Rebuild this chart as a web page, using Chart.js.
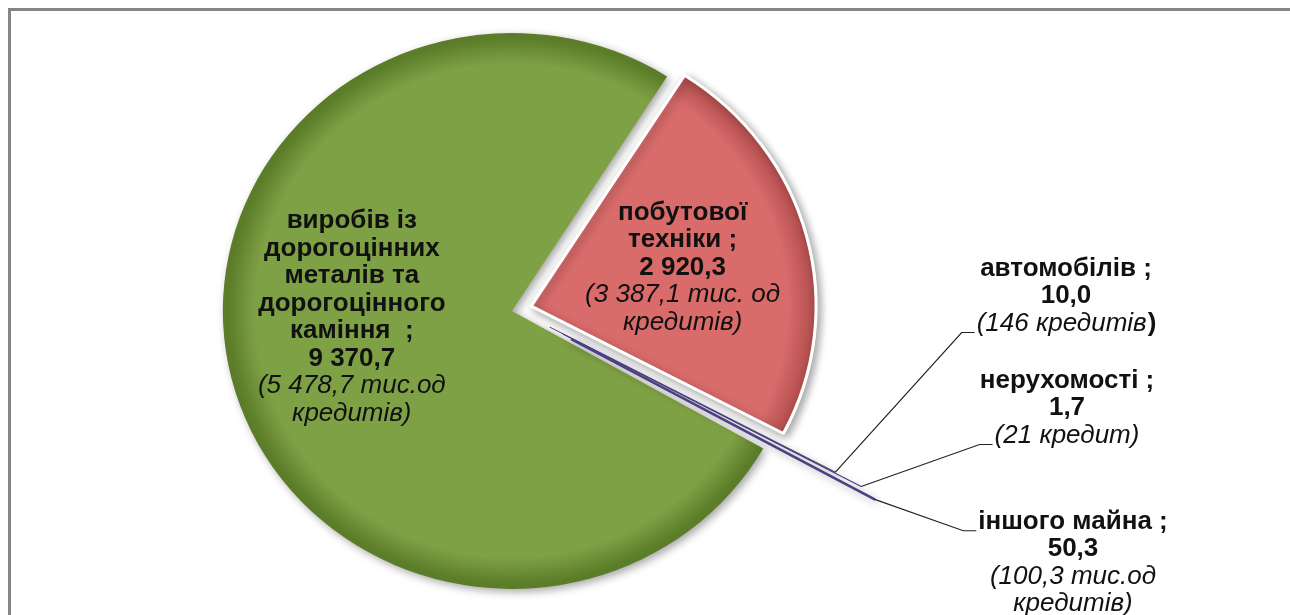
<!DOCTYPE html>
<html>
<head>
<meta charset="utf-8">
<title>Кредити за видами майна</title>
<script src="https://cdn.jsdelivr.net/npm/chart.js@4"></script>
<style>
    html, body { margin: 0; padding: 0; background: #fff; overflow: hidden; }
    #wrap { position: relative; width: 1290px; height: 615px; overflow: hidden; }
    #frame { position: absolute; left: 8px; top: 8px; width: 1400px; height: 700px;
             border-left: 3px solid #858585; border-top: 3px solid #858585; }
    canvas { position: absolute; left: 0; top: 0; }
</style>
</head>
<body>
<div id="wrap">
    <div id="frame"></div>
    <canvas id="pie" width="1290" height="615"></canvas>
</div>
<script>
// Дані (сума кредитів; у дужках - кількість кредитів)
var nameLines = [
    ['виробів із', 'дорогоцінних', 'металів та', 'дорогоцінного', 'каміння  ;'],
    ['побутової', 'техніки ;'],
    ['автомобілів ;'],
    ['нерухомості ;'],
    ['іншого майна ;']
];
var values = [9370.7, 2920.3, 10.0, 1.7, 50.3];
var noteLines = [
    ['(5 478,7 тис.од', 'кредитів)'],
    ['(3 387,1 тис. од', 'кредитів)'],
    ['(146 кредитів)'],
    ['(21 кредит)'],
    ['(100,3 тис.од', 'кредитів)']
];

// Оформлення
var sliceColors = ['#7fa145', '#d96b6b', '#7a64a6', '#6f5b9c', '#6e5ea6'];
var sliceRims = ['#5b7c28', '#b04c4c', '#3e3270', '#3e3270', '#3e3270'];
var sliceBorderColors = ['#ffffff', '#ffffff', '#4a3d80', '#4a3d80', '#4b3f86'];
var sliceBorderWidths = [0, 3, 1, 1, 2.5];
var sliceOffsets = [16, 60, 147, 204, 242];
var pieRadius = 274;
var stretchX = 1.04;   // у оригіналі діаграма трохи розтягнута по горизонталі
var boldParen = [false, false, true, false, false];
// inside: частка радіуса від вершини сектора; інакше - зсув від центру діаграми
var labelPlace = [
    { inside: 0.55, dx: -4, dy: -31 },
    { inside: 0.55, dx: 0, dy: 0 },
    { dx: 550, dy: -14, lead: 2 },
    { dx: 551, dy: 98, lead: 2 },
    { dx: 557, dy: 253, lead: 0 }
];
var linePitch = 27.5;
var boldFont = 'bold 26px "Liberation Sans", Arial, sans-serif';
var italicFont = 'italic 26px "Liberation Sans", Arial, sans-serif';

function fmt(v) {
    var s = v.toFixed(1).split('.');
    return s[0].replace(/\B(?=(\d{3})+(?!\d))/g, ' ') + ',' + s[1];
}

function bevelFill(c) {
    var i = c.dataIndex;
    var area = c.chart.chartArea;
    if (!area) return sliceColors[i];
    var cx = (area.left + area.right) / 2;
    var cy = (area.top + area.bottom) / 2;
    var g = c.chart.ctx.createRadialGradient(cx, cy, 0, cx, cy, pieRadius);
    g.addColorStop(0, sliceColors[i]);
    g.addColorStop(0.9, sliceColors[i]);
    g.addColorStop(1, sliceRims[i]);
    return g;
}

// вершина сектора з урахуванням зсуву (так само, як це робить ArcElement)
function arcGeom(el) {
    var p = el.getProps(['x', 'y', 'startAngle', 'endAngle', 'outerRadius', 'circumference'], true);
    var mid = (p.startAngle + p.endAngle) / 2;
    var off = (el.options.offset || 0) / 4;
    var fix = 1 - Math.sin(Math.min(Math.PI, p.circumference || 0));
    var t = off + off * fix;
    return { cx: p.x + Math.cos(mid) * t, cy: p.y + Math.sin(mid) * t, r: p.outerRadius, mid: mid };
}

function drawLabel(ctx, i, cx, cy) {
    var lines = [];
    nameLines[i].forEach(function (s) { lines.push({ t: s, f: boldFont }); });
    lines.push({ t: fmt(values[i]), f: boldFont });
    noteLines[i].forEach(function (s) { lines.push({ t: s, f: italicFont, note: true }); });

    var top = cy - (lines.length - 1) * linePitch / 2;
    var boxes = [];
    ctx.fillStyle = '#111';
    ctx.textBaseline = 'middle';
    lines.forEach(function (ln, k) {
        var y = top + k * linePitch;
        ctx.font = ln.f;
        if (ln.note && boldParen[i] && ln.t.slice(-1) === ')') {
            // у підписі "автомобілів" закриваюча дужка жирна
            var body = ln.t.slice(0, -1);
            var w1 = ctx.measureText(body).width;
            ctx.font = boldFont;
            var w2 = ctx.measureText(')').width;
            var left = cx - (w1 + w2) / 2;
            ctx.textAlign = 'left';
            ctx.font = italicFont;
            ctx.fillText(body, left, y);
            ctx.font = boldFont;
            ctx.fillText(')', left + w1 + 1, y);
            boxes.push({ left: left, y: y });
        } else {
            var w = ctx.measureText(ln.t).width;
            ctx.textAlign = 'center';
            ctx.fillText(ln.t, cx, y);
            boxes.push({ left: cx - w / 2, y: y });
        }
    });
    return boxes;
}

var pieLabels = {
    id: 'pieLabels',
    beforeDatasetsDraw: function (chart) {
        var ctx = chart.ctx;
        var area = chart.chartArea;
        var ccx = (area.left + area.right) / 2;
        ctx.save();
        ctx.translate(ccx, 0);
        ctx.scale(stretchX, 1);
        ctx.translate(-ccx, 0);
        ctx.shadowColor = 'rgba(0,0,0,0.35)';
        ctx.shadowBlur = 9;
        ctx.shadowOffsetX = 3;
        ctx.shadowOffsetY = 3;
    },
    afterDatasetsDraw: function (chart) {
        chart.ctx.restore();
    },
    afterDraw: function (chart) {
        var ctx = chart.ctx;
        var arcs = chart.getDatasetMeta(0).data;
        var area = chart.chartArea;
        var ccx = (area.left + area.right) / 2;
        var ccy = (area.top + area.bottom) / 2;
        ctx.save();
        arcs.forEach(function (el, i) {
            var g = arcGeom(el);
            var pl = labelPlace[i];
            if (pl.inside) {
                var ax = ccx + (g.cx + Math.cos(g.mid) * g.r * pl.inside - ccx) * stretchX + pl.dx;
                var ay = g.cy + Math.sin(g.mid) * g.r * pl.inside + pl.dy;
                drawLabel(ctx, i, ax, ay);
            } else {
                var boxes = drawLabel(ctx, i, ccx + pl.dx, ccy + pl.dy);
                var b = boxes[pl.lead];
                var tipX = ccx + (g.cx + Math.cos(g.mid) * g.r - ccx) * stretchX;
                var tipY = g.cy + Math.sin(g.mid) * g.r;
                ctx.beginPath();
                ctx.strokeStyle = '#222';
                ctx.lineWidth = 1.2;
                ctx.moveTo(tipX, tipY);
                ctx.lineTo(b.left - 15, b.y + 9);
                ctx.lineTo(b.left - 2, b.y + 9);
                ctx.stroke();
            }
        });
        ctx.restore();
    }
};

new Chart(document.getElementById('pie'), {
    type: 'pie',
    data: {
        labels: nameLines.map(function (l) { return l.join(' ').replace(/\s+;/, ''); }),
        datasets: [{
            data: values,
            backgroundColor: bevelFill,
            borderColor: sliceBorderColors,
            borderWidth: sliceBorderWidths,
            offset: sliceOffsets
        }]
    },
    options: {
        responsive: false,
        animation: false,
        rotation: 119.5,
        radius: pieRadius,
        events: [],
        layout: { padding: { left: 0, right: 258, top: 5, bottom: 0 } },
        plugins: {
            legend: { display: false },
            tooltip: { enabled: false }
        }
    },
    plugins: [pieLabels]
});
</script>
</body>
</html>
